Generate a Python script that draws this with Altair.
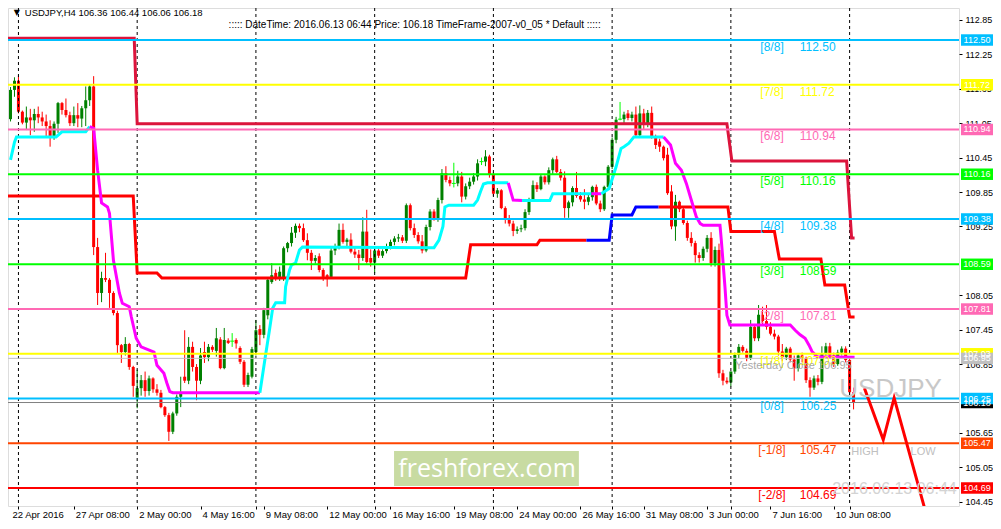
import altair as alt
import pandas as pd

FONT = "Liberation Sans"

# ---------------- candle data (USDJPY H4, bar 0 = 22 Apr 16:00) ----------------
bar_open = [
    111.12, 111.63, 111.79, 111.25, 111.06, 111.15, 111.10, 111.21, 111.15, 111.08,
    111.00, 110.81, 111.04, 111.40, 111.28, 111.19, 111.05, 111.19, 111.13, 111.31,
    111.45, 111.69, 108.89, 108.09, 108.35, 108.32, 108.09, 107.74, 107.18, 107.06,
    107.20, 106.80, 106.26, 106.43, 106.57, 106.38, 106.60, 106.41, 106.35, 106.10,
    105.96, 105.67, 105.99, 106.28, 106.63, 106.56, 107.15, 106.80, 106.56, 107.06,
    106.97, 107.15, 107.08, 107.28, 106.78, 107.26, 107.25, 107.27, 107.13, 106.89,
    106.49, 106.63, 107.06, 107.46, 107.36, 107.70, 108.28, 108.44, 108.36, 108.35,
    108.87, 108.96, 109.14, 109.26, 109.22, 109.01, 108.79, 108.65, 108.73, 108.49,
    108.40, 108.37, 108.83, 108.90, 109.19, 108.98, 109.02, 108.81, 108.76, 108.70,
    109.16, 108.70, 108.62, 108.83, 108.74, 108.82, 108.90, 108.98, 109.04, 109.06,
    109.00, 109.62, 109.22, 109.10, 108.99, 108.83, 109.24, 109.51, 109.39, 109.71,
    110.18, 110.06, 110.00, 110.00, 110.12, 109.77, 109.95, 110.03, 110.12, 110.38,
    110.38, 110.47, 110.15, 109.82, 109.88, 109.57, 109.39, 109.30, 109.17, 109.20,
    109.22, 109.50, 109.71, 109.97, 109.90, 110.12, 110.02, 110.23, 110.42, 110.20,
    110.10, 109.57, 109.67, 109.92, 109.78, 109.72, 109.68, 109.76, 109.94, 109.65,
    109.55, 109.94, 110.29, 110.76, 111.12, 111.12, 111.22, 111.14, 111.20, 110.84,
    111.22, 111.02, 111.23, 110.81, 110.73, 110.64, 110.50, 109.86, 109.25, 109.68,
    109.55, 109.31, 109.05, 108.96, 108.75, 108.70, 108.86, 109.05, 108.61, 108.84,
    106.69, 106.56, 106.53, 106.72, 107.01, 107.15, 107.08, 106.96, 107.50, 107.30,
    107.71, 107.60, 107.50, 107.38, 107.33, 107.07, 106.97, 107.12, 106.93, 106.78,
    107.00, 106.95, 106.57, 106.44, 106.60, 106.54, 107.04, 107.16, 107.00, 106.85,
    107.05, 107.12, 106.92, 106.36,
]
bar_high = [
    111.68, 111.85, 111.88, 111.27, 111.34, 111.30, 111.30, 111.34, 111.25, 111.20,
    111.10, 111.08, 111.42, 111.42, 111.48, 111.25, 111.34, 111.40, 111.35, 111.69,
    111.72, 111.87, 109.05, 108.46, 108.79, 108.35, 108.12, 107.78, 107.20, 107.32,
    107.22, 106.82, 106.75, 106.66, 106.72, 106.65, 106.62, 106.50, 106.40, 106.12,
    106.00, 106.02, 106.32, 106.63, 107.44, 107.32, 107.24, 106.85, 107.13, 107.24,
    107.20, 107.18, 107.48, 107.32, 107.48, 107.30, 107.39, 107.30, 107.16, 106.92,
    106.70, 107.15, 107.62, 107.53, 107.83, 108.35, 108.61, 108.50, 108.55, 108.90,
    108.98, 109.24, 109.30, 109.30, 109.30, 109.13, 108.84, 108.75, 108.78, 108.52,
    108.42, 108.88, 108.95, 109.30, 109.30, 109.05, 109.13, 108.88, 108.84, 109.41,
    109.54, 108.85, 108.88, 108.88, 108.85, 108.95, 109.02, 109.08, 109.12, 109.10,
    109.65, 109.65, 109.30, 109.15, 109.10, 109.28, 109.55, 109.55, 109.75, 110.25,
    110.30, 110.12, 110.36, 110.22, 110.20, 110.00, 110.10, 110.18, 110.42, 110.45,
    110.58, 110.50, 110.20, 109.92, 109.90, 109.60, 109.45, 109.35, 109.25, 109.28,
    109.55, 109.75, 110.05, 110.02, 110.15, 110.14, 110.28, 110.45, 110.48, 110.25,
    110.21, 109.70, 109.95, 110.20, 109.85, 109.90, 109.80, 109.96, 109.98, 109.70,
    109.96, 110.32, 110.80, 111.16, 111.42, 111.25, 111.28, 111.25, 111.34, 111.36,
    111.30, 111.28, 111.34, 110.85, 110.78, 110.66, 110.62, 109.97, 109.80, 109.70,
    109.60, 109.35, 109.15, 109.00, 108.80, 108.90, 109.10, 109.15, 108.90, 108.95,
    106.75, 106.62, 106.72, 107.05, 107.20, 107.18, 107.12, 107.62, 107.55, 107.88,
    107.85, 107.88, 107.58, 107.45, 107.36, 107.20, 107.15, 107.15, 107.00, 107.02,
    107.05, 106.98, 106.62, 106.65, 106.66, 107.16, 107.22, 107.22, 107.05, 107.10,
    107.16, 107.16, 106.98, 106.44,
]
bar_low = [
    111.08, 111.51, 111.22, 111.03, 110.93, 110.84, 110.90, 111.05, 111.00, 110.81,
    110.64, 110.76, 110.88, 111.20, 111.15, 111.00, 111.00, 110.98, 110.98, 111.00,
    111.35, 108.75, 107.88, 107.93, 108.28, 107.83, 107.70, 107.04, 106.87, 107.00,
    106.75, 106.28, 106.08, 106.30, 106.28, 106.30, 106.35, 106.30, 106.08, 105.93,
    105.51, 105.63, 105.95, 106.10, 106.52, 106.50, 106.72, 106.22, 106.50, 106.87,
    106.90, 107.06, 106.98, 106.76, 106.76, 107.20, 107.15, 107.12, 106.85, 106.45,
    106.45, 106.60, 107.00, 107.18, 107.30, 107.63, 108.25, 108.30, 108.30, 108.30,
    108.80, 108.90, 109.05, 109.15, 108.98, 108.66, 108.49, 108.60, 108.45, 108.30,
    108.20, 108.35, 108.75, 108.85, 108.95, 108.90, 108.78, 108.70, 108.49, 108.65,
    108.60, 108.55, 108.44, 108.70, 108.70, 108.78, 108.85, 108.92, 108.98, 108.96,
    108.96, 109.18, 109.05, 108.95, 108.78, 108.80, 109.18, 109.35, 109.33, 109.65,
    110.02, 109.95, 109.93, 109.95, 109.67, 109.72, 109.90, 109.98, 110.05, 110.32,
    110.30, 110.10, 109.78, 109.75, 109.55, 109.30, 109.25, 109.08, 109.12, 109.15,
    109.18, 109.45, 109.68, 109.85, 109.88, 109.98, 109.98, 110.15, 110.18, 110.05,
    109.40, 109.40, 109.60, 109.75, 109.68, 109.55, 109.62, 109.70, 109.62, 109.50,
    109.52, 109.90, 110.25, 110.70, 111.10, 111.05, 111.10, 111.08, 110.80, 110.80,
    110.95, 110.98, 110.78, 110.60, 110.55, 110.40, 109.80, 109.20, 109.00, 109.50,
    109.28, 109.00, 108.90, 108.62, 108.62, 108.65, 108.80, 108.55, 108.55, 106.61,
    106.48, 106.50, 106.46, 106.68, 106.95, 107.05, 106.90, 106.92, 107.25, 107.25,
    107.55, 107.45, 107.35, 107.28, 107.00, 106.90, 106.92, 106.88, 106.56, 106.72,
    106.88, 106.52, 106.28, 106.40, 106.48, 106.50, 107.00, 106.95, 106.80, 106.82,
    107.00, 106.88, 106.30, 106.06,
]
bar_close = [
    111.63, 111.79, 111.25, 111.06, 111.15, 111.10, 111.21, 111.15, 111.08, 111.00,
    110.81, 111.04, 111.40, 111.28, 111.19, 111.05, 111.19, 111.13, 111.31, 111.45,
    111.69, 108.89, 108.09, 108.35, 108.32, 108.09, 107.74, 107.18, 107.06, 107.20,
    106.80, 106.47, 106.43, 106.57, 106.38, 106.60, 106.41, 106.35, 106.10, 105.96,
    105.67, 105.99, 106.28, 106.35, 106.56, 107.15, 106.80, 106.56, 107.00, 106.97,
    107.15, 107.10, 107.30, 106.78, 107.27, 107.22, 107.25, 107.21, 106.89, 106.49,
    106.66, 107.11, 107.44, 107.36, 107.79, 108.32, 108.40, 108.36, 108.46, 108.87,
    108.96, 109.14, 109.26, 109.22, 109.01, 108.79, 108.65, 108.70, 108.49, 108.37,
    108.37, 108.83, 108.90, 109.19, 108.98, 109.02, 108.81, 108.76, 108.70, 109.16,
    108.63, 108.62, 108.83, 108.74, 108.82, 108.90, 108.98, 109.04, 109.06, 109.00,
    109.62, 109.22, 109.10, 108.99, 108.83, 109.24, 109.51, 109.39, 109.71, 110.18,
    110.06, 110.00, 110.00, 110.12, 109.77, 109.95, 110.03, 110.12, 110.35, 110.38,
    110.47, 110.15, 109.82, 109.88, 109.57, 109.39, 109.30, 109.17, 109.20, 109.22,
    109.50, 109.71, 109.97, 109.90, 110.12, 110.02, 110.23, 110.42, 110.20, 110.10,
    109.57, 109.67, 109.92, 109.78, 109.72, 109.68, 109.76, 109.94, 109.65, 109.55,
    109.94, 110.29, 110.76, 111.11, 111.12, 111.20, 111.14, 111.20, 110.84, 111.22,
    111.02, 111.23, 110.81, 110.67, 110.64, 110.44, 109.83, 109.25, 109.68, 109.55,
    109.31, 109.05, 108.96, 108.75, 108.70, 108.86, 109.05, 108.61, 108.84, 106.69,
    106.56, 106.53, 106.72, 107.01, 107.15, 107.08, 106.96, 107.50, 107.30, 107.71,
    107.60, 107.50, 107.38, 107.33, 107.07, 106.97, 107.12, 106.93, 106.78, 107.00,
    106.95, 106.57, 106.44, 106.60, 106.54, 107.04, 107.16, 107.00, 106.85, 107.05,
    107.12, 106.92, 106.36, 106.18,
]

# time axis
x_tick_bars = [0, 16, 32, 48, 64, 80, 96, 112, 128, 144, 160, 176, 192, 208]
x_tick_labels = ["22 Apr 2016", "27 Apr 08:00", "2 May 00:00", "4 May 16:00", "9 May 08:00",
                 "12 May 00:00", "16 May 16:00", "19 May 08:00", "24 May 00:00", "26 May 16:00",
                 "31 May 08:00", "3 Jun 00:00", "7 Jun 16:00", "10 Jun 08:00"]
week_start_bars = [2, 32, 62, 92, 122, 152, 182, 212]
# price scale labels (108.65 and 106.25 are hidden behind level boxes in the original)
y_tick_values = [104.45, 105.05, 105.65, 106.85, 107.45, 108.05,
                 109.25, 109.85, 110.45, 111.05, 111.65, 112.25, 112.85]

# Murrey math levels
mm_levels = [112.50, 111.72, 110.94, 110.16, 109.38, 108.59, 107.81, 107.03, 106.25, 105.47, 104.69]
mm_names = ["[8/8]", "[7/8]", "[6/8]", "[5/8]", "[4/8]", "[3/8]", "[2/8]", "[1/8]", "[0/8]", "[-1/8]", "[-2/8]"]
mm_colors = ["#00BFFF", "#FFFF00", "#FF69B4", "#00FF00", "#00BFFF", "#00FF00", "#FF69B4", "#FFFF00",
             "#00BFFF", "#FF4500", "#FF0000"]

# price labels on right scale (drawn in this order)
box_prices = [106.18, 112.50, 111.72, 110.94, 110.16, 109.38, 108.59, 107.81, 107.03, 106.95, 106.25, 105.47, 104.69]
box_colors = ["#000000", "#00BFFF", "#FFFF00", "#FF69B4", "#00FF00", "#00BFFF", "#00FF00", "#FF69B4",
              "#FFFF00", "#C0C0C0", "#00BFFF", "#FF4500", "#FF0000"]

yesterday_close = 106.95
current_price = 106.18

# step lines (channel indicator)
crimson_bar = [-1, 31.25, 32, 181, 182.25, 211.25, 212.5, 213.25]
crimson_val = [112.53, 112.53, 111.04, 111.04, 110.39, 110.39, 109.05, 109.05]
red_a_bar = [-1, 31, 32, 37, 38.25, 115, 116.25, 133, 133.75, 145.5]
red_a_val = [109.78, 109.78, 108.44, 108.44, 108.35, 108.35, 108.93, 108.93, 109.01, 109.01]
blue_bar = [145.5, 151.25, 152, 157, 158, 163.75]
blue_val = [109.01, 109.01, 109.45, 109.45, 109.59, 109.59]
red_b_bar = [163.75, 181.25, 182, 193, 194.25, 204.75, 205.75, 210.75, 212, 213.25]
red_b_val = [109.59, 109.59, 109.16, 109.16, 108.68, 108.68, 108.23, 108.23, 107.67, 107.67]

# trend line (cyan up / magenta down)
trend_seg_bars = [
    [0, 1, 1.5, 11.5, 13, 19, 20],
    [20, 21, 22, 23, 24.5, 25, 26, 27.5, 28.25, 30, 30.5, 31.75, 33, 35.5, 36.25, 37, 38.75, 39.5, 40.25, 41, 63],
    [63, 64.25, 65.5, 66.25, 67, 69.25, 69.5, 70.5, 71, 72, 73, 73.75, 107, 108.25, 109.25, 109.75, 110.75,
     117, 118, 118.75, 119.5, 120.5, 125.75],
    [125.75, 127, 129.25],
    [129.25, 136.25, 137, 146.75],
    [146.75, 149.25],
    [149.25, 151.25, 153, 154.25, 155, 156.25, 157.5, 165],
    [165, 166.75, 168, 168.75, 169.5, 170.75, 172, 173.25, 174.25, 175, 179.25, 179.6, 180.5, 181, 181.75,
     197, 198.25, 199.5, 200.75, 201.75, 202.5, 203.75, 213.25],
]
trend_seg_vals = [
    [110.41, 110.72, 110.81, 110.81, 110.90, 110.90, 110.99],
    [110.99, 110.96, 110.23, 109.66, 109.59, 109.48, 108.66, 108.09, 107.91, 107.85, 107.68, 107.30, 107.15,
     107.08, 107.06, 106.83, 106.69, 106.52, 106.37, 106.35, 106.35],
    [106.35, 106.92, 107.48, 107.83, 107.92, 107.92, 108.20, 108.49, 108.58, 108.61, 108.84, 108.89, 108.88,
     109.01, 109.25, 109.59, 109.62, 109.62, 109.71, 109.86, 109.99, 110.01, 110.01],
    [110.01, 109.71, 109.70],
    [109.70, 109.70, 109.82, 109.82],
    [109.82, 109.82],
    [109.82, 109.91, 110.29, 110.61, 110.64, 110.70, 110.81, 110.81],
    [110.81, 110.67, 110.35, 110.29, 110.23, 110.00, 109.71, 109.42, 109.30, 109.27, 109.27, 109.00, 108.20,
     107.70, 107.53, 107.53, 107.44, 107.36, 107.30, 107.18, 107.07, 106.98, 106.97],
]
trend_seg_colors = ["#00FFFF", "#FF00FF", "#00FFFF", "#FF00FF", "#00FFFF", "#FF00FF", "#00FFFF", "#FF00FF"]

# projection zig-zag
zz_bar = [215.75, 220.5, 223.25, 231.5]
zz_val = [106.43, 105.53, 106.26, 104.20]

# ---------------- scales / axes ----------------
xs = alt.Scale(domain=[0.625, 238.375], nice=False, zero=False)
ys = alt.Scale(domain=[104.376, 113.058], nice=False, zero=False)
x_axis = alt.Axis(values=sorted(set(x_tick_bars[1:] + week_start_bars)), labels=False, ticks=True,
                  tickSize=3, tickColor="black", domain=False, grid=False, title=None)
y_axis = alt.Axis(orient="right", values=y_tick_values, format=".2f", tickSize=3, tickColor="black",
                  labelPadding=3, labelFont=FONT, labelFontSize=9, labelColor="black", domain=False,
                  grid=False, title=None, labelOverlap=False, labelBound=False, labelFlush=False, zindex=0)


def X(f):
    return alt.X(f, type="quantitative", scale=xs, axis=x_axis)


def Y(f):
    return alt.Y(f, type="quantitative", scale=ys, axis=y_axis)


COL = alt.Color("col:N", scale=None, legend=None)

# ---------------- frames ----------------
n = len(bar_close)
candles = pd.DataFrame({"bar": list(range(n)), "o": bar_open, "h": bar_high, "l": bar_low, "c": bar_close})
candles["col"] = ["#008000" if c > o else ("#FF0000" if c < o else "#00FF00")
                  for o, c in zip(bar_open, bar_close)]
candles["lo"] = candles[["o", "h", "l", "c"]].min(axis=1)
candles["hi"] = candles[["o", "h", "l", "c"]].max(axis=1)
bodies = candles[candles.o != candles.c]
dojis = candles[candles.o == candles.c].copy()
dojis["xa"] = dojis["bar"] - 0.5
dojis["xb"] = dojis["bar"] + 0.5

wicks = alt.Chart(candles).mark_rule(strokeWidth=1, clip=True).encode(x=X("bar"), y=Y("lo"), y2="hi", color=COL)
body_l = alt.Chart(bodies).mark_bar(size=3, clip=True).encode(x=X("bar"), y=Y("o"), y2="c", color=COL)
doji_l = alt.Chart(dojis).mark_rule(strokeWidth=1, clip=True).encode(x=X("xa"), x2="xb", y=Y("c"), color=COL)

seps = alt.Chart(pd.DataFrame({"bar": week_start_bars})).mark_rule(
    color="black", strokeWidth=1, strokeDash=[3, 3], clip=True).encode(x=X("bar"))

step_rows = []
for seg, (bs, vs, col) in enumerate([(crimson_bar, crimson_val, "#DC143C"), (red_a_bar, red_a_val, "#FF0000"),
                                     (blue_bar, blue_val, "#0000FF"), (red_b_bar, red_b_val, "#FF0000")]):
    for b, v in zip(bs, vs):
        step_rows.append({"bar": b, "v": v, "seg": seg, "col": col})
steps = alt.Chart(pd.DataFrame(step_rows)).mark_line(strokeWidth=3, clip=True).encode(
    x=X("bar"), y=Y("v"), detail="seg:N", color=COL)

trend_rows = []
for seg, (bs, vs) in enumerate(zip(trend_seg_bars, trend_seg_vals)):
    for b, v in zip(bs, vs):
        trend_rows.append({"bar": b, "v": v, "seg": seg, "col": trend_seg_colors[seg]})
trend = alt.Chart(pd.DataFrame(trend_rows)).mark_line(strokeWidth=3, clip=True).encode(
    x=X("bar"), y=Y("v"), detail="seg:N", color=COL)

grey_lines = alt.Chart(pd.DataFrame({"p": [yesterday_close, current_price],
                                     "col": ["#C0C0C0", "#808080"]})).mark_rule(strokeWidth=1).encode(
    y=Y("p"), color=COL)

mm = pd.DataFrame({"p": mm_levels, "name": mm_names, "col": mm_colors,
                   "val": [f"{v:.2f}" for v in mm_levels]})
mm["bx"] = 192.4
mm["vx"] = 199.4
mm_lines = alt.Chart(mm).mark_rule(strokeWidth=2).encode(y=Y("p"), color=COL)
mm_name_t = alt.Chart(mm).mark_text(font=FONT, fontSize=12, align="center", baseline="middle", dy=7).encode(
    x=X("bx"), y=Y("p"), text="name:N", color=COL)
mm_val_t = alt.Chart(mm).mark_text(font=FONT, fontSize=12, align="left", baseline="middle", dy=7).encode(
    x=X("vx"), y=Y("p"), text="val:N", color=COL)

zz = alt.Chart(pd.DataFrame({"bar": zz_bar, "v": zz_val})).mark_line(
    strokeWidth=3, color="#FF0000", clip=True).encode(x=X("bar"), y=Y("v"))


def txt(label, bx, p, size, color, align="left", font=FONT, clip=False):
    return alt.Chart(pd.DataFrame({"bx": [bx], "p": [p], "t": [label]})).mark_text(
        font=font, fontSize=size, color=color, align=align, baseline="middle", clip=clip).encode(
        x=X("bx"), y=Y("p"), text="t:N")


texts = [
    txt("\u25BC", 1.6, 112.971, 8, "black", align="center", font="DejaVu Sans"),
    txt("USDJPY,H4  106.36 106.44 106.06 106.18", 3.6, 112.971, 9.5, "black"),
    txt("::::: DateTime: 2016.06.13 06:44     Price: 106.18     TimeFrame-2007-v0_05     *    Default  :::::",
        55.1, 112.762, 10, "black"),
    txt("Yesterday Close 106.95", 183.1, 106.817, 11, "#A9A9A9"),
    txt("USDJPY", 209.4, 106.416, 26, "#C8C8C8"),
    txt("HIGH", 212.4, 105.317, 11, "#C0C0C0"),
    txt("LOW", 227.4, 105.317, 11, "#C0C0C0"),
    txt("2016.06.13 06:44", 207.6, 104.672, 16, "#D3D3D3", clip=True),
]

logo_rect = alt.Chart(pd.DataFrame({"a": [96.9], "b": [143.6], "p1": [105.335], "p2": [104.725]})).mark_rect(
    color="#C8DBA2").encode(x=X("a"), x2="b", y=Y("p1"), y2="p2")
logo_text = txt("freshforex.com", 120.4, 105.02, 25, "white", align="center", font="Open Sans")

boxes = pd.DataFrame({"p": box_prices, "col": box_colors, "t": [f"{v:.2f}" for v in box_prices]})
boxes["top"] = boxes["p"] + 0.1
boxes["bot"] = boxes["p"] - 0.1
box_r = alt.Chart(boxes).mark_rect().encode(x=alt.value(953), x2=alt.value(985), y=Y("top"), y2="bot", color=COL)
box_t = alt.Chart(boxes).mark_text(font=FONT, fontSize=9, color="white", align="center",
                                   baseline="middle").encode(x=alt.value(969), y=Y("p"), text="t:N")

xl = alt.Chart(pd.DataFrame({"bar": x_tick_bars, "t": x_tick_labels})).mark_text(
    font=FONT, fontSize=9.5, color="black", align="left", baseline="top", dx=2).encode(
    x=X("bar"), y=alt.value(502), text="t:N")

chart = alt.layer(
    wicks, body_l, doji_l, seps, steps, trend, grey_lines, mm_lines, zz,
    mm_name_t, mm_val_t, *texts, logo_rect, logo_text, box_r, box_t, xl
).properties(
    width=951, height=498,
    autosize=alt.AutoSizeParams(type="none"),
    padding={"left": 0, "top": 0, "right": 34, "bottom": 15},
).configure_view(stroke="black", strokeWidth=1).configure(background="white")

chart.save("out.html", embed_options={"renderer": "svg", "actions": False})
